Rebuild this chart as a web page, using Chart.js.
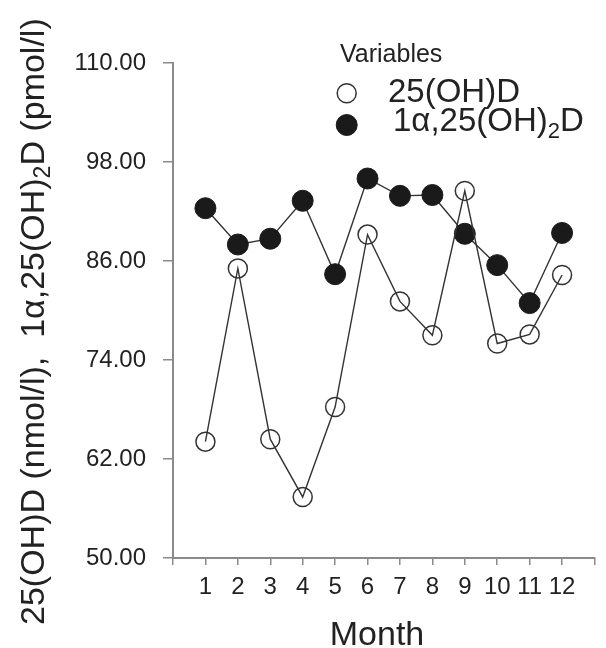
<!DOCTYPE html>
<html>
<head>
<meta charset="utf-8">
<title>Vitamin D by month</title>
<script src="https://cdn.jsdelivr.net/npm/chart.js@4.4.1/dist/chart.umd.min.js"></script>
<style>
  html, body { margin: 0; padding: 0; background: #fff; }
  #wrap { width: 606px; height: 648px; position: relative; }
</style>
</head>
<body>
<div id="wrap"><canvas id="vitD" width="606" height="648"></canvas></div>
<script>
// values
const months = [1, 2, 3, 4, 5, 6, 7, 8, 9, 10, 11, 12];
const ohD = [64.1, 85.1, 64.4, 57.4, 68.3, 89.2, 81.1, 77.0, 94.5, 76.0, 77.1, 84.3];
const diOhD = [92.4, 88.0, 88.7, 93.3, 84.4, 96.0, 93.9, 94.0, 89.3, 85.5, 80.9, 89.4];
const yTicks = [50, 62, 74, 86, 98, 110];
const seriesNames = ['25(OH)D', '1α,25(OH)_2D'];   // "_2" = subscript 2
const legendTitle = 'Variables';
const xTitle = 'Month';
const yTitle = '25(OH)D (nmol/l),  1α,25(OH)_2D (pmol/l)';

const FONT = '"Liberation Sans", Arial, Helvetica, sans-serif';
const INK = '#222';
const AXIS = '#8a8a8a';

// draw text where "_2" means a lowered, smaller 2
function drawRich(ctx, text, x, y, size) {
  const parts = text.split('_');
  let cx = x;
  parts.forEach((p, i) => {
    if (i > 0) {
      const subSize = Math.round(size * 0.68);
      ctx.font = subSize + 'px ' + FONT;
      ctx.fillText(p[0], cx, y + size * 0.2);
      cx += ctx.measureText(p[0]).width;
      p = p.slice(1);
    }
    ctx.font = size + 'px ' + FONT;
    ctx.fillText(p, cx, y);
    cx += ctx.measureText(p).width;
  });
}

const textPlugin = {
  id: 'textPlugin',
  afterDraw(chart) {
    const ctx = chart.ctx;
    ctx.save();
    ctx.fillStyle = INK;
    ctx.textBaseline = 'alphabetic';
    ctx.textAlign = 'left';

    // y axis title, rotated
    ctx.save();
    ctx.translate(43.5, 625);
    ctx.rotate(-Math.PI / 2);
    drawRich(ctx, yTitle, 0, 0, 34);
    ctx.restore();

    // x axis title
    ctx.font = '34px ' + FONT;
    ctx.textAlign = 'center';
    ctx.fillText(xTitle, 377, 645);
    ctx.textAlign = 'left';

    // legend
    ctx.font = '25px ' + FONT;
    ctx.fillText(legendTitle, 340, 61.5);
    const rows = [{ cy: 93.3, tx: 388, ty: 101.7 }, { cy: 125, tx: 393, ty: 131 }];
    chart.data.datasets.forEach((ds, i) => {
      const r = rows[i];
      ctx.beginPath();
      ctx.arc(346.7, r.cy, ds.pointRadius, 0, Math.PI * 2);
      ctx.fillStyle = ds.pointBackgroundColor;
      ctx.fill();
      ctx.lineWidth = ds.pointBorderWidth;
      ctx.strokeStyle = ds.pointBorderColor;
      ctx.stroke();
      ctx.fillStyle = INK;
      drawRich(ctx, seriesNames[i], r.tx, r.ty, 33);
    });
    ctx.restore();
  }
};

const ctx = document.getElementById('vitD').getContext('2d');
new Chart(ctx, {
  type: 'line',
  data: {
    datasets: [
      {
        label: seriesNames[0],
        data: months.map((m, i) => ({ x: m, y: ohD[i] })),
        borderColor: '#333',
        borderWidth: 1.4,
        tension: 0,
        pointRadius: 9.5,
        pointHoverRadius: 9.5,
        pointBorderWidth: 1.5,
        pointBorderColor: '#333',
        pointBackgroundColor: 'rgba(0,0,0,0)'
      },
      {
        label: seriesNames[1],
        data: months.map((m, i) => ({ x: m, y: diOhD[i] })),
        borderColor: '#333',
        borderWidth: 1.4,
        tension: 0,
        pointRadius: 10.5,
        pointHoverRadius: 10.5,
        pointBorderWidth: 1,
        pointBorderColor: '#1a1a1a',
        pointBackgroundColor: '#1a1a1a'
      }
    ]
  },
  options: {
    responsive: false,
    animation: false,
    devicePixelRatio: 1,
    clip: false,
    layout: { padding: { top: 63, right: 0, left: 0, bottom: 0 } },
    plugins: { legend: { display: false }, tooltip: { enabled: false } },
    scales: {
      x: {
        type: 'linear',
        min: 0,
        max: 13,
        afterFit: s => { s.height = 90; },
        ticks: {
          stepSize: 1,
          autoSkip: false,
          maxRotation: 0,
          padding: 8,
          color: INK,
          font: { family: FONT, size: 24 },
          callback: v => (v >= 1 && v <= 12 ? String(v) : '')
        },
        grid: { drawOnChartArea: false, drawTicks: true, tickLength: 7, color: AXIS, lineWidth: 1.5 },
        border: { display: true, color: AXIS, width: 2 }
      },
      y: {
        min: 50,
        max: 110,
        afterFit: s => { s.width = 173; },
        afterBuildTicks: s => { s.ticks = yTicks.map(v => ({ value: v })); },
        ticks: {
          padding: 17,
          color: INK,
          font: { family: FONT, size: 24 },
          callback: v => Number(v).toFixed(2)
        },
        grid: { drawOnChartArea: false, drawTicks: true, tickLength: 10, color: AXIS, lineWidth: 1.5 },
        border: { display: true, color: AXIS, width: 2 }
      }
    }
  },
  plugins: [textPlugin]
});
</script>
</body>
</html>
